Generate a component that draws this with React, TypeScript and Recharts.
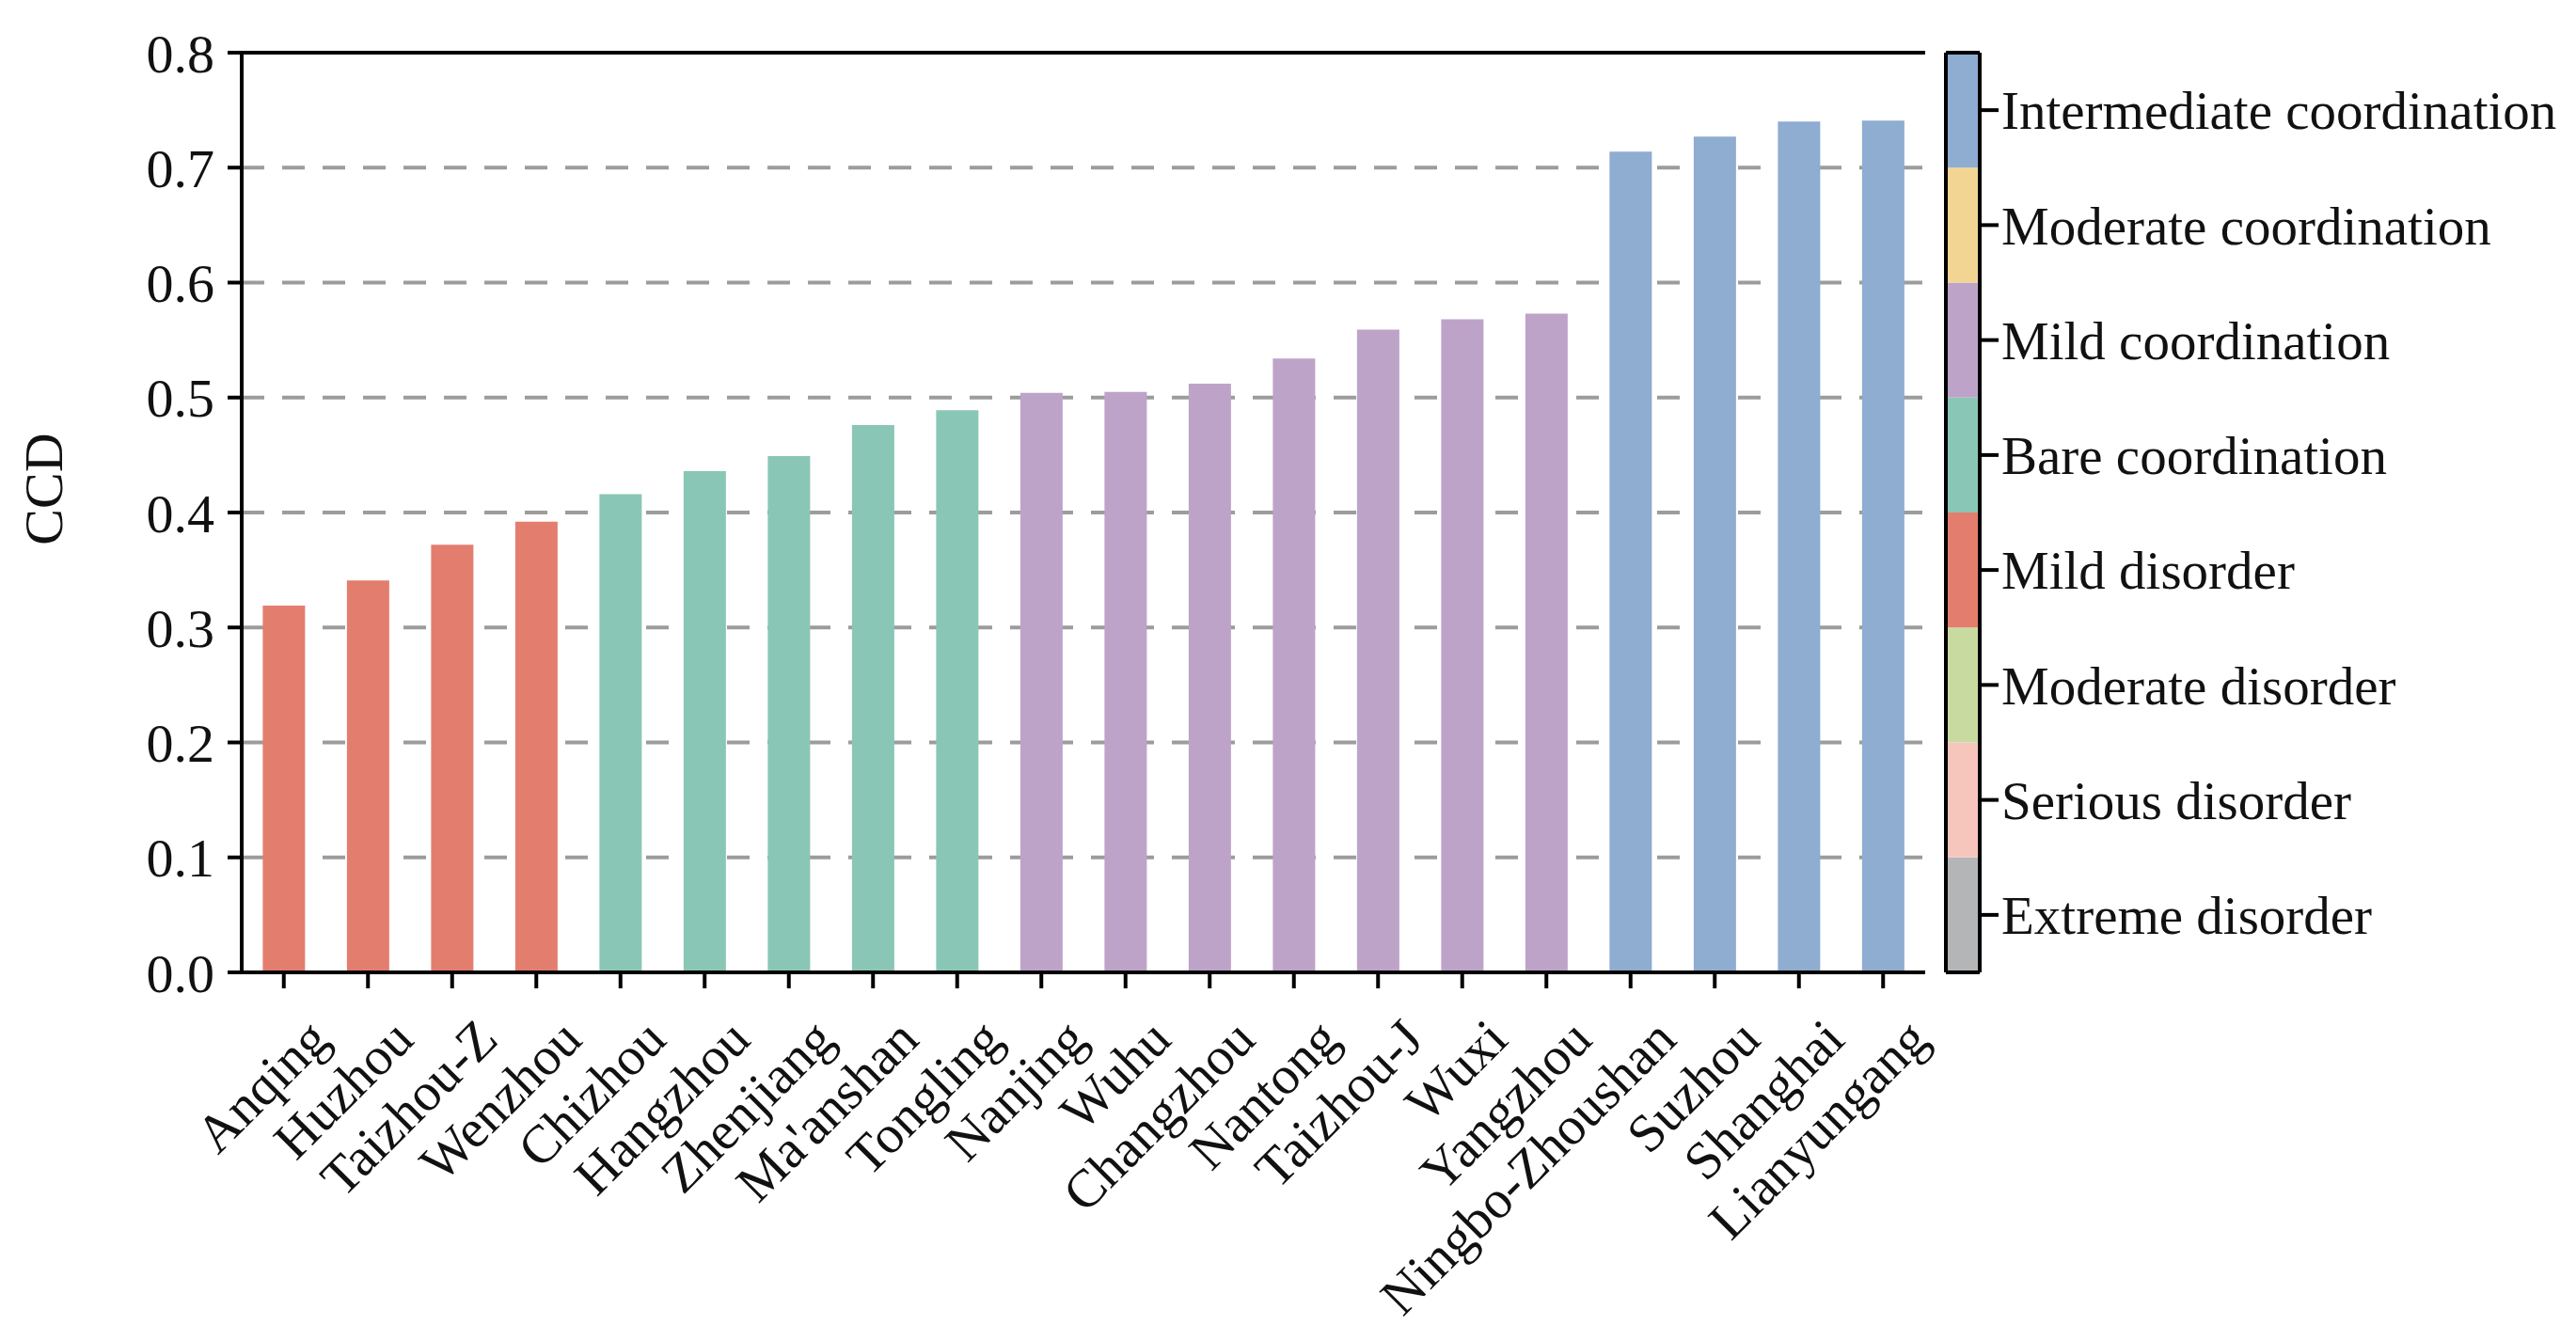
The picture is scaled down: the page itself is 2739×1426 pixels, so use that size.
import React from 'react';
import { BarChart, Bar, XAxis, YAxis, CartesianGrid, Cell, ReferenceLine, Label } from 'recharts';

const cities = ['Anqing', 'Huzhou', 'Taizhou-Z', 'Wenzhou', 'Chizhou', 'Hangzhou', 'Zhenjiang', "Ma'anshan", 'Tongling', 'Nanjing', 'Wuhu', 'Changzhou', 'Nantong', 'Taizhou-J', 'Wuxi', 'Yangzhou', 'Ningbo-Zhoushan', 'Suzhou', 'Shanghai', 'Lianyungang'];
const ccdValues = [0.319, 0.341, 0.372, 0.392, 0.416, 0.436, 0.449, 0.476, 0.489, 0.504, 0.505, 0.512, 0.534, 0.559, 0.568, 0.573, 0.714, 0.727, 0.740, 0.741];
const cityLevels = ['Mild disorder', 'Mild disorder', 'Mild disorder', 'Mild disorder', 'Bare coordination', 'Bare coordination', 'Bare coordination', 'Bare coordination', 'Bare coordination', 'Mild coordination', 'Mild coordination', 'Mild coordination', 'Mild coordination', 'Mild coordination', 'Mild coordination', 'Mild coordination', 'Intermediate coordination', 'Intermediate coordination', 'Intermediate coordination', 'Intermediate coordination'];

// colour bar levels, bottom to top
const levelNames = ['Extreme disorder', 'Serious disorder', 'Moderate disorder', 'Mild disorder', 'Bare coordination', 'Mild coordination', 'Moderate coordination', 'Intermediate coordination'];
const levelColors = ['#B4B5B7', '#F6C6BD', '#C9DAA1', '#E37E6F', '#8AC6B5', '#BEA3C9', '#F3D593', '#8FACD1'];
const levelSpans = [0.1, 0.1, 0.1, 0.1, 0.1, 0.1, 0.1, 0.1];
const levelLabelPositions = [0.05, 0.15, 0.25, 0.35, 0.45, 0.55, 0.65, 0.75];

const yTicks = [0, 0.1, 0.2, 0.3, 0.4, 0.5, 0.6, 0.7, 0.8];

const FONT = '"Liberation Serif", "Times New Roman", serif';

const data = cities.map((name, i) => ({ name, value: ccdValues[i], level: cityLevels[i] }));
const colorOf = (level: string) => levelColors[levelNames.indexOf(level)];

const cbRow: Record<string, any> = { name: 'cb' };
levelSpans.forEach((v, i) => { cbRow['l' + i] = v; });
const cbData = [cbRow];

const XTick = (props: any) => {
  const { x, y, payload } = props;
  return (
    <g transform={`translate(${x + 51},${y + 55})`}>
      <text x={0} y={0} textAnchor="end" transform="rotate(-45)" fontFamily={FONT} fontSize={57} fill="#111">
        {payload.value}
      </text>
    </g>
  );
};

export default function App() {
  return (
    <div style={{ position: 'absolute', left: 0, top: 0, width: 2739, height: 1426, background: '#fff' }}>
      <div style={{ position: 'absolute', left: 0, top: 0 }}>
        <BarChart width={2065} height={1426} data={data} margin={{ top: 56, right: 18, left: 0, bottom: 0 }} barCategoryGap="25%">
          <CartesianGrid vertical={false} stroke="#9c9c9c" strokeDasharray="24 19" strokeWidth={4} />
          <XAxis
            dataKey="name"
            height={392}
            interval={0}
            tick={<XTick />}
            tickSize={17}
            tickLine={{ stroke: '#000', strokeWidth: 4 }}
            axisLine={{ stroke: '#000', strokeWidth: 4 }}
          />
          <YAxis
            width={257}
            domain={[0, 0.8]}
            ticks={yTicks}
            tickFormatter={(v: number) => v.toFixed(1)}
            tickSize={15}
            tickMargin={14}
            tickLine={{ stroke: '#000', strokeWidth: 4 }}
            axisLine={{ stroke: '#000', strokeWidth: 4 }}
            tick={{ fontFamily: FONT, fontSize: 58, fill: '#111' }}
          >
            <Label
              content={(p: any) => {
                const vb = p.viewBox;
                return (
                  <text x={vb.x + 66} y={vb.y + vb.height / 2 - 25} transform={`rotate(-90, ${vb.x + 66}, ${vb.y + vb.height / 2 - 25})`} textAnchor="middle" fontFamily={FONT} fontSize={58} fill="#111">
                    CCD
                  </text>
                );
              }}
            />
          </YAxis>
          <ReferenceLine y={0.8} stroke="#000" strokeWidth={4} />
          <Bar dataKey="value" isAnimationActive={false}>
            {data.map((d, i) => (
              <Cell key={i} fill={colorOf(d.level)} />
            ))}
          </Bar>
        </BarChart>
      </div>
      <div style={{ position: 'absolute', left: 2065, top: 0 }}>
        <BarChart width={674} height={1426} data={cbData} margin={{ top: 56, right: 0, left: 0, bottom: 392 }} barCategoryGap={0}>
          <XAxis dataKey="name" hide />
          <YAxis yAxisId="left" orientation="left" width={4} domain={[0, 0.8]} tick={false} tickLine={false} axisLine={{ stroke: '#000', strokeWidth: 4 }} />
          <YAxis
            orientation="right"
            width={634}
            domain={[0, 0.8]}
            ticks={levelLabelPositions}
            interval={0}
            tickFormatter={(v: number) => levelNames[levelLabelPositions.indexOf(v)]}
            tickSize={20}
            tickMargin={3}
            tickLine={{ stroke: '#000', strokeWidth: 4 }}
            axisLine={{ stroke: '#000', strokeWidth: 4 }}
            tick={{ fontFamily: FONT, fontSize: 57, fill: '#111' }}
          />
          {levelSpans.map((_, i) => (
            <Bar key={i} dataKey={'l' + i} stackId="cb" fill={levelColors[i]} isAnimationActive={false} />
          ))}
          <ReferenceLine y={0.8} stroke="#000" strokeWidth={4} />
          <ReferenceLine y={0} stroke="#000" strokeWidth={4} />
        </BarChart>
      </div>
    </div>
  );
}
